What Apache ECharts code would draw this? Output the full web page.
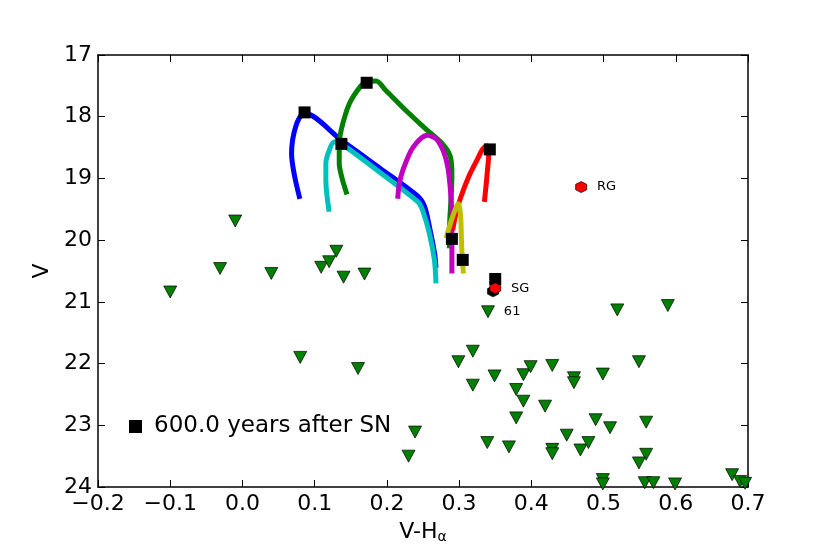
<!DOCTYPE html>
<html>
<head>
<meta charset="utf-8">
<script src="https://cdn.jsdelivr.net/npm/echarts@6/dist/echarts.min.js"></script>
<style>
  html, body { margin: 0; padding: 0; background: #fff; }
  #main { width: 830px; height: 554px; }
</style>
</head>
<body>
<div id="main"></div>
<script>
// tracks, [V-Halpha, V]
var blueTrack = [[0.0795,19.33],[0.072,18.95],[0.068,18.6],[0.074,18.15],[0.086,17.94],[0.137,18.38],[0.19,18.83],[0.242,19.28],[0.252,19.45],[0.259,19.79],[0.266,20.21],[0.268,20.45]];
var cyanTrack = [[0.12,19.54],[0.1155,19.03],[0.1155,18.76],[0.12,18.55],[0.127,18.41],[0.137,18.44],[0.19,18.9],[0.243,19.38],[0.2495,19.52],[0.2588,19.89],[0.2658,20.32],[0.268,20.70]];
var greenTrack = [[0.1447,19.26],[0.138,19.0],[0.134,18.76],[0.134,18.45],[0.137,18.2],[0.148,17.79],[0.164,17.5],[0.172,17.44],[0.185,17.42],[0.199,17.58],[0.222,17.85],[0.254,18.2],[0.277,18.44],[0.288,18.65],[0.29,18.95],[0.289,19.3],[0.287,19.7],[0.2866,20.13]];
var magentaTrack = [[0.215,19.33],[0.217,19.1],[0.222,18.87],[0.236,18.5],[0.256,18.3],[0.27,18.38],[0.283,18.74],[0.289,19.35],[0.29,20.0],[0.29,20.54]];
var redTrack = [[0.291,19.84],[0.296,19.55],[0.303,19.28],[0.313,18.98],[0.324,18.72],[0.333,18.52],[0.339,18.47],[0.341,18.6],[0.339,18.9],[0.337,19.15],[0.335,19.38]];
var yellowTrack = [[0.282,19.97],[0.291,19.62],[0.299,19.41],[0.302,19.6],[0.303,19.9],[0.304,20.21],[0.306,20.54]];

// 600 yr positions
var ageMarks = [[0.086,17.93],[0.172,17.45],[0.137,18.44],[0.3425,18.53],[0.29,19.98],[0.305,20.32],[0.35,20.63]];

// stars
var stars = [[-0.1,20.84],[-0.031,20.46],[-0.01,19.69],[0.04,20.54],[0.08,21.9],[0.109,20.44],[0.12,20.35],[0.13,20.18],[0.14,20.6],[0.16,22.08],[0.169,20.55],
  [0.23,23.5],[0.239,23.11],[0.299,21.97],[0.319,21.8],[0.319,22.35],[0.349,22.2],[0.339,23.28],[0.369,23.35],[0.379,22.88],[0.379,22.42],[0.389,22.18],
  [0.399,22.05],[0.389,22.61],[0.419,22.69],[0.429,22.03],[0.429,23.39],[0.429,23.46],[0.449,23.16],[0.459,22.23],[0.459,22.31],[0.468,23.4],[0.479,23.28],
  [0.489,22.91],[0.499,22.17],[0.509,23.04],[0.499,23.88],[0.499,23.95],[0.549,21.97],[0.559,22.95],[0.559,23.47],[0.549,23.61],[0.557,23.93],[0.569,23.93],
  [0.599,23.95],[0.678,23.8],[0.689,23.91],[0.696,23.94],[0.519,21.13],[0.589,21.06]];
var star61 = [0.34,21.16];
var starNames = ['61'];

var companions = [[0.469,19.14],[0.35,20.78]];
var companionNames = ['RG','SG'];
var hiddenMark = [[0.347,20.83]];

var xTicks = [-0.2,0.7,0.1];
var yTicks = [17,24,1];

var fontName = 'DejaVu Sans';
var hexagon = 'path://M0,-1L0.866,-0.5L0.866,0.5L0,1L-0.866,0.5L-0.866,-0.5Z';

var myChart = echarts.init(document.getElementById('main'));

var track = function(data, color) {
    return {
        type: 'line',
        data: data,
        smooth: 0.3,
        symbol: 'none',
        z: 2,
        lineStyle: { color: color, width: 5 },
        silent: true
    };
};

var starData = stars.map(function(p) { return p; });
starData.push({
    value: star61,
    label: { show: true, formatter: starNames[0], position: 'right', distance: 9, color: '#000', fontSize: 13, fontFamily: fontName }
});

var compData = companions.map(function(p, i) {
    return {
        value: p,
        label: { show: true, formatter: companionNames[i], position: 'right', distance: 10, color: '#000', fontSize: 13, fontFamily: fontName }
    };
});

var axisCommon = {
    type: 'value',
    axisLine: { show: true, onZero: false, lineStyle: { color: '#000', width: 1.5 } },
    axisTick: { show: true, inside: true, length: 7, lineStyle: { color: '#000', width: 1 } },
    splitLine: { show: false }
};

option = {
    animation: false,
    backgroundColor: '#fff',
    grid: { left: 98, right: 82, top: 55, bottom: 67 },
    legend: {
        data: ['600.0 years after SN'],
        left: 124, top: 410,
        itemWidth: 13, itemHeight: 13,
        textStyle: { fontSize: 23, fontFamily: fontName, color: '#000', padding: [0, 0, 0, 7] }
    },
    xAxis: [
        Object.assign({}, axisCommon, {
            min: xTicks[0], max: xTicks[1], interval: xTicks[2],
            position: 'bottom',
            name: '{a|V-H}{b|α}',
            nameLocation: 'middle',
            nameGap: 33,
            nameTextStyle: {
                rich: {
                    a: { fontSize: 22, fontFamily: fontName, color: '#000' },
                    b: { fontSize: 14, fontFamily: fontName, color: '#000', padding: [10, 0, 0, 0] }
                }
            },
            axisLabel: {
                fontSize: 22, fontFamily: fontName, color: '#000', margin: 6,
                formatter: function(v) { return v.toFixed(1).replace('-', '\u2212'); }
            }
        }),
        Object.assign({}, axisCommon, {
            min: xTicks[0], max: xTicks[1], interval: xTicks[2],
            position: 'top',
            axisLabel: { show: false }
        })
    ],
    yAxis: [
        Object.assign({}, axisCommon, {
            min: yTicks[0], max: yTicks[1], interval: yTicks[2],
            inverse: true,
            position: 'left',
            name: 'V',
            nameLocation: 'middle',
            nameRotate: 90,
            nameGap: 44,
            nameTextStyle: { fontSize: 22, fontFamily: fontName, color: '#000' },
            axisLabel: { fontSize: 22, fontFamily: fontName, color: '#000', margin: 6 }
        }),
        Object.assign({}, axisCommon, {
            min: yTicks[0], max: yTicks[1], interval: yTicks[2],
            inverse: true,
            position: 'right',
            axisLabel: { show: false }
        })
    ],
    series: [
        track(blueTrack, '#0000ff'),
        track(greenTrack, '#008000'),
        track(cyanTrack, '#00bfbf'),
        track(magentaTrack, '#bf00bf'),
        track(redTrack, '#ff0000'),
        track(yellowTrack, '#bfbf00'),
        {
            type: 'scatter',
            data: starData,
            symbol: 'triangle',
            symbolRotate: 180,
            symbolSize: [13, 12],
            z: 4,
            itemStyle: { color: '#008000', borderColor: '#000', borderWidth: 0.7, opacity: 1 }
        },
        {
            type: 'scatter',
            data: hiddenMark,
            symbol: hexagon,
            symbolSize: 11,
            z: 5,
            itemStyle: { color: '#000', borderColor: '#000', borderWidth: 0.7, opacity: 1 }
        },
        {
            name: '600.0 years after SN',
            type: 'scatter',
            data: ageMarks,
            symbol: 'rect',
            symbolSize: 12,
            z: 6,
            itemStyle: { color: '#000', opacity: 1 }
        },
        {
            type: 'scatter',
            data: compData,
            symbol: hexagon,
            symbolSize: 11,
            z: 7,
            itemStyle: { color: '#ff0000', borderColor: '#000', borderWidth: 0.7, opacity: 1 }
        }
    ]
};

myChart.setOption(option);
</script>
</body>
</html>
